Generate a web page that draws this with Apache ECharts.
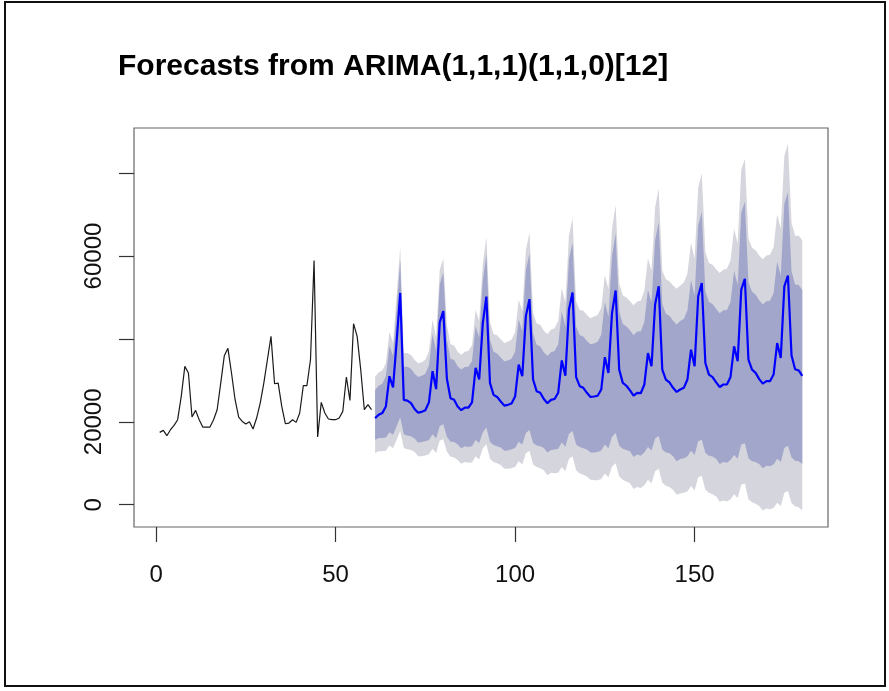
<!DOCTYPE html>
<html><head><meta charset="utf-8">
<script src="https://cdn.jsdelivr.net/npm/echarts@6/dist/echarts.min.js"></script>
<style>html,body{margin:0;padding:0;background:#fff}#c{width:889px;height:691px}</style>
</head><body><div id="c"></div>
<script>
const titleText = 'Forecasts from ARIMA(1,1,1)(1,1,0)[12]';
const xTicks = [0, 50, 100, 150];
const yTicks = [0, 20000, 40000, 60000, 80000];
const yLabels = [0, 20000, 60000];

const historyStart = 1;
const historyValues = [17450,17930,16650,18100,19140,20510,26140,33380,31770,21150,22760,20510,
18740,18740,18740,20510,22920,29350,35960,37730,31770,25330,21150,20100,
19460,20020,18260,20910,24530,29350,34980,40610,29190,29350,23720,19540,
19700,20510,19860,22120,28710,28710,34980,58930,16330,24690,22120,20670,
20510,20510,20910,22520,30810,25170,43670,40610,32570,22920,24130,22920];

const forecastStart = 61;
const forecastMean = [20900,21700,22100,23700,31000,28300,39400,51100,25300,25100,24500,23100,
22200,22400,22800,24700,32200,27900,44000,46700,30400,25700,25300,23700,
22800,23400,23400,24700,33000,30200,43800,50200,29400,26500,26000,24900,
23900,24100,24400,26100,33800,31000,45500,49600,30200,27400,27000,25500,
24500,25300,25500,27000,34800,31100,47100,51200,30800,28600,28200,27000,
26000,26100,26300,27800,35600,31800,46300,51700,32600,29400,28700,27600,
26300,27000,26900,29000,36600,33400,48300,52700,32600,30200,29500,28200,
27200,27800,28200,30200,37400,33400,50300,53500,34200,31400,30800,29500,
28400,29000,29000,30800,38200,34600,51900,54500,35000,32600,31800,30300,
29200,29800,29800,31400,39000,35400,52700,55300,36000,32700,32400,31100];

const upper95 = [30900,31900,32400,34200,41700,39100,50400,62200,36600,36600,36100,34900,
34100,34400,35000,37000,44600,40400,56600,59400,43300,38700,38400,36900,
36200,36900,37100,38500,47000,44300,58100,64600,44000,41200,40900,39900,
39000,39400,39800,41600,49400,46800,61400,65600,46300,43700,43400,42000,
41200,42200,42600,44300,52300,48800,64900,69200,49000,47000,46800,45800,
45000,45400,45800,47500,55500,52000,66700,72300,53400,50500,50000,49100,
48100,49000,49200,51600,59400,56500,71700,76300,56500,54400,53900,52900,
52100,52900,53600,55800,63200,59400,76500,79900,60900,58300,57900,56800,
55900,56700,56900,58900,66500,63100,80700,83500,64200,62000,61400,60100,
59200,60100,60300,62200,70000,66700,84200,87000,68000,64900,64900,63800];

const upper80 = [27700,28700,29200,31000,38400,35900,47100,59000,33300,33300,32800,31600,
30800,31100,31600,33600,41200,37000,53200,56000,39800,35200,34900,33400,
32600,33200,33300,34700,43100,40300,54000,60500,39800,36900,36500,35500,
34600,34800,35200,36900,44700,41900,56500,60700,41300,38600,38200,36800,
35900,36800,37100,38700,46600,43000,59100,63300,43000,40900,40600,39500,
38700,38900,39300,41000,48900,45300,60000,65500,46600,43600,43000,42100,
40900,41800,41800,44100,51800,48800,63800,68300,48400,46100,45600,44400,
43500,44300,44800,46900,54200,50400,67400,70700,51500,48900,48400,47200,
46200,46900,47000,48900,56400,53000,70400,73100,53700,51400,50700,49300,
48300,49100,49200,51000,58700,55300,72700,75400,56300,53100,53000,51800];

const lower80 = [15700,16100,16100,16200,17500,16900,18900,21100,17000,16700,16500,16000,
15000,15100,15300,15600,17000,16000,19000,19400,16400,15200,15100,14500,
13600,14100,13900,14100,15600,14900,17500,18600,15100,14400,14100,13800,
13000,13100,13400,13700,15200,14500,17300,18000,14900,14300,14100,13700,
12600,13200,13300,13500,15000,14000,17100,17800,14500,13900,13600,13300,
12600,12600,12700,13100,14500,13600,16400,17300,14200,13500,13200,12900,
11500,12100,11800,12600,13900,13100,16000,16600,13300,12600,12400,11700,
10500,11000,11200,11700,13000,12000,15300,15700,12500,11800,11600,11100,
9800,10300,10100,10800,12000,11100,14500,14800,11200,10500,10300,9800,
8800,9400,9300,9700,11100,10300,13700,14200,11400,10600,10500,9800];

const lower95 = [12500,12900,12900,13000,14300,13600,15700,17800,13700,13400,13200,12700,
11700,11700,11900,12200,13500,12500,15500,15800,12800,11600,11400,10800,
9900,10300,10100,10200,11700,10900,13600,14600,11100,10300,10000,9600,
8700,8700,8800,9100,10500,9700,12400,13000,9700,9100,8800,8300,
7100,7700,7600,7700,9100,8100,11100,11700,8300,7500,7200,6800,
6000,5900,5900,6200,7500,6600,9200,10000,6800,6000,5600,5200,
3800,4300,4000,4700,6000,5200,8100,8700,5300,4600,4300,3600,
2400,2700,2900,3200,4500,3400,6600,7000,3600,2900,2500,2000,
700,1000,800,1300,2500,1600,4800,5100,1300,600,200,-300,
-1400,-900,-1100,-800,500,-300,2900,3300,400,-400,-600,-1400];

const FONT = '"Liberation Sans", Arial, Helvetica, sans-serif';

const histData = historyValues.map((v, i) => [historyStart + i, v]);
const meanData = forecastMean.map((v, i) => [forecastStart + i, v]);

function bandSeries(name, lo, hi, color, z) {
  const pts = forecastMean.map((_, i) => [forecastStart + i, lo[i], hi[i]]);
  return {
    name: name, type: 'custom', silent: true, clip: true, z: z,
    data: pts,
    encode: { x: 0, y: [1, 2] },
    renderItem: function (params, api) {
      if (params.dataIndex !== 0) return null;
      const up = pts.map(p => api.coord([p[0], p[2]]));
      const dn = pts.map(p => api.coord([p[0], p[1]])).reverse();
      return { type: 'polygon', shape: { points: up.concat(dn) }, style: { fill: color } };
    }
  };
}

const chart = echarts.init(document.getElementById('c'), null, { renderer: 'canvas' });
chart.setOption({
  animation: false,
  backgroundColor: '#fff',
  graphic: [
    { type: 'rect', shape: { x: 5, y: 2, width: 880, height: 684 },
      style: { fill: 'none', stroke: '#111', lineWidth: 2 }, z: 100 },
    { type: 'text', x: 118, y: 67,
      style: { text: titleText, font: 'bold 30px ' + FONT, fill: '#000', verticalAlign: 'middle', align: 'left' } }
  ],
  grid: { left: 134, right: 61, top: 128, bottom: 164, show: true, borderColor: '#666', borderWidth: 1.2, backgroundColor: 'transparent' },
  xAxis: {
    type: 'value', min: -6.16, max: 187.16,
    axisLine: { show: false, onZero: false }, splitLine: { show: false },
    axisTick: { show: true, customValues: xTicks, length: 15, lineStyle: { color: '#333', width: 1.2 } },
    axisLabel: { customValues: xTicks, fontSize: 24, color: '#111', margin: 36, fontFamily: FONT,
      formatter: v => String(v) }
  },
  yAxis: {
    type: 'value', min: -5380, max: 90890,
    axisLine: { show: false, onZero: false }, splitLine: { show: false },
    axisTick: { show: true, customValues: yTicks, length: 15, lineStyle: { color: '#333', width: 1.2 } },
    axisLabel: { customValues: yLabels, fontSize: 24, color: '#111', margin: 28, rotate: 90, fontFamily: FONT,
      formatter: v => String(v) }
  },
  series: [
    bandSeries('95%', lower95, upper95, '#D5D5DD', 1),
    bandSeries('80%', lower80, upper80, '#A2A6CA', 2),
    { name: 'history', type: 'line', data: histData, showSymbol: false, symbol: 'none', z: 3,
      lineStyle: { color: '#1a1a1a', width: 1.2 } },
    { name: 'forecast', type: 'line', data: meanData, showSymbol: false, symbol: 'none', z: 4,
      lineStyle: { color: '#0000FF', width: 2.2 } }
  ]
});
</script>
</body></html>
